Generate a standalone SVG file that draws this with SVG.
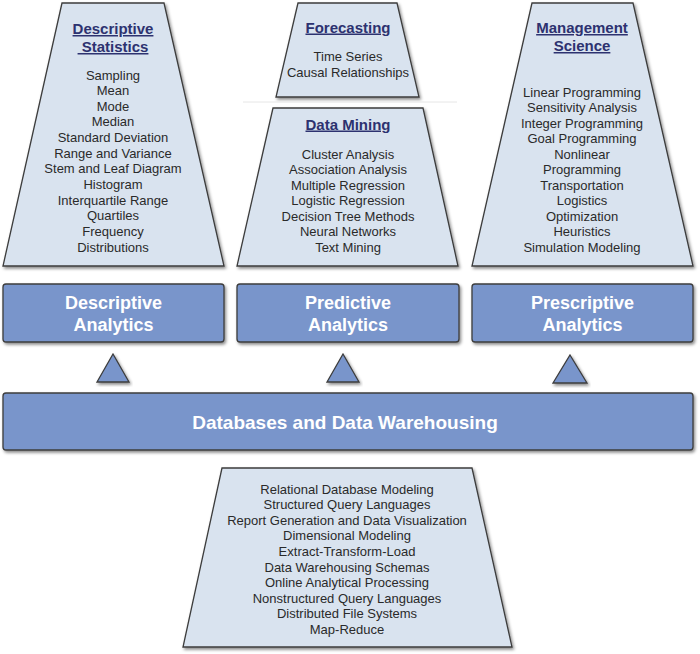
<svg xmlns="http://www.w3.org/2000/svg" width="700" height="654" viewBox="0 0 700 654">
  <defs>
    <filter id="shadow" x="-10%" y="-10%" width="120%" height="125%">
      <feDropShadow dx="1.5" dy="2" stdDeviation="1.4" flood-color="#000" flood-opacity="0.45"/>
    </filter>
    <style>
      .trap { fill: #d9e3ef; stroke: #3c3c3c; stroke-width: 1.3; filter: url(#shadow); }
      .box { fill: #7995cb; stroke: #3c3c3c; stroke-width: 1.3; filter: url(#shadow); }
      .tri { fill: #7995cb; stroke: #3c3c3c; stroke-width: 1.3; filter: url(#shadow); }
      .title { font-family: "Liberation Sans", Arial, sans-serif; font-size: 15px; font-weight: bold; fill: #2d3270; text-anchor: middle; text-decoration: underline; white-space: pre; }
      .item { font-family: "Liberation Sans", Arial, sans-serif; font-size: 13px; fill: #2a2a2a; text-anchor: middle; }
      .label { font-family: "Liberation Sans", Arial, sans-serif; font-size: 18px; font-weight: bold; fill: #ffffff; text-anchor: middle; }
      .base { font-family: "Liberation Sans", Arial, sans-serif; font-size: 19px; font-weight: bold; fill: #ffffff; text-anchor: middle; }
    </style>
  </defs>
  <rect width="700" height="654" fill="#ffffff"/>

  <!-- Descriptive statistics techniques -->
  <g id="descriptive-statistics">
    <polygon class="trap" points="62,3 164,3 224,266 3,266"/>
    <text class="title" x="113" y="34">Descriptive</text>
    <text class="title" x="113" y="52"> Statistics</text>
    <text class="item" x="113" y="79.5">Sampling</text>
    <text class="item" x="113" y="95">Mean</text>
    <text class="item" x="113" y="110.8">Mode</text>
    <text class="item" x="113" y="126.4">Median</text>
    <text class="item" x="113" y="142">Standard Deviation</text>
    <text class="item" x="113" y="157.7">Range and Variance</text>
    <text class="item" x="113" y="173.3">Stem and Leaf Diagram</text>
    <text class="item" x="113" y="189">Histogram</text>
    <text class="item" x="113" y="204.6">Interquartile Range</text>
    <text class="item" x="113" y="220.2">Quartiles</text>
    <text class="item" x="113" y="235.9">Frequency</text>
    <text class="item" x="113" y="251.5">Distributions</text>
  </g>

  <!-- Forecasting techniques -->
  <g id="forecasting">
    <polygon class="trap" points="298,3 397,3 419,97 276,97"/>
    <text class="title" x="348" y="32.5">Forecasting</text>
    <text class="item" x="348" y="60.5">Time Series</text>
    <text class="item" x="348" y="76.5">Causal Relationships</text>
  </g>

  <line x1="243" y1="102" x2="457" y2="102" stroke="#e6e6e6" stroke-width="1"/>

  <!-- Data mining techniques -->
  <g id="data-mining">
    <polygon class="trap" points="273,108 423,108 458,266 237,266"/>
    <text class="title" x="348" y="129.5">Data Mining</text>
    <text class="item" x="348" y="158.5">Cluster Analysis</text>
    <text class="item" x="348" y="174">Association Analysis</text>
    <text class="item" x="348" y="189.5">Multiple Regression</text>
    <text class="item" x="348" y="205">Logistic Regression</text>
    <text class="item" x="348" y="220.5">Decision Tree Methods</text>
    <text class="item" x="348" y="236">Neural Networks</text>
    <text class="item" x="348" y="251.5">Text Mining</text>
  </g>

  <!-- Management science techniques -->
  <g id="management-science">
    <polygon class="trap" points="532,3 633,3 693,266 472,266"/>
    <text class="title" x="582" y="33">Management</text>
    <text class="title" x="582" y="51">Science</text>
    <text class="item" x="582" y="96.5">Linear Programming</text>
    <text class="item" x="582" y="112">Sensitivity Analysis</text>
    <text class="item" x="582" y="127.5">Integer Programming</text>
    <text class="item" x="582" y="143">Goal Programming</text>
    <text class="item" x="582" y="158.5">Nonlinear</text>
    <text class="item" x="582" y="174">Programming</text>
    <text class="item" x="582" y="189.5">Transportation</text>
    <text class="item" x="582" y="205">Logistics</text>
    <text class="item" x="582" y="220.5">Optimization</text>
    <text class="item" x="582" y="236">Heuristics</text>
    <text class="item" x="582" y="251.5">Simulation Modeling</text>
  </g>

  <!-- Analytics categories -->
  <g id="descriptive-analytics">
    <rect class="box" x="3" y="284" width="221" height="58" rx="3"/>
    <text class="label" x="113.5" y="308.5">Descriptive</text>
    <text class="label" x="113.5" y="331">Analytics</text>
  </g>
  <g id="predictive-analytics">
    <rect class="box" x="237" y="284" width="222" height="58" rx="3"/>
    <text class="label" x="348" y="308.5">Predictive</text>
    <text class="label" x="348" y="331">Analytics</text>
  </g>
  <g id="prescriptive-analytics">
    <rect class="box" x="472" y="284" width="221" height="58" rx="3"/>
    <text class="label" x="582.5" y="308.5">Prescriptive</text>
    <text class="label" x="582.5" y="331">Analytics</text>
  </g>

  <!-- Upward supports from the data layer -->
  <g id="connectors">
    <polygon class="tri" points="113,354 129,382 97,382"/>
    <polygon class="tri" points="343,354 359,382 327,382"/>
    <polygon class="tri" points="570,355 587,383 553,383"/>
  </g>

  <!-- Data layer -->
  <g id="databases">
    <rect class="box" x="3" y="393" width="690" height="57" rx="3"/>
    <text class="base" x="345" y="429">Databases and Data Warehousing</text>
  </g>

  <!-- Data technologies -->
  <g id="data-technologies">
    <polygon class="trap" points="222,468 472,468 512,647 183,647"/>
    <text class="item" x="347" y="493.5">Relational Database Modeling</text>
    <text class="item" x="347" y="509">Structured Query Languages</text>
    <text class="item" x="347" y="524.7">Report Generation and Data Visualization</text>
    <text class="item" x="347" y="540.3">Dimensional Modeling</text>
    <text class="item" x="347" y="556">Extract-Transform-Load</text>
    <text class="item" x="347" y="571.5">Data Warehousing Schemas</text>
    <text class="item" x="347" y="587">Online Analytical Processing</text>
    <text class="item" x="347" y="602.7">Nonstructured Query Languages</text>
    <text class="item" x="347" y="618.3">Distributed File Systems</text>
    <text class="item" x="347" y="634">Map-Reduce</text>
  </g>
</svg>
